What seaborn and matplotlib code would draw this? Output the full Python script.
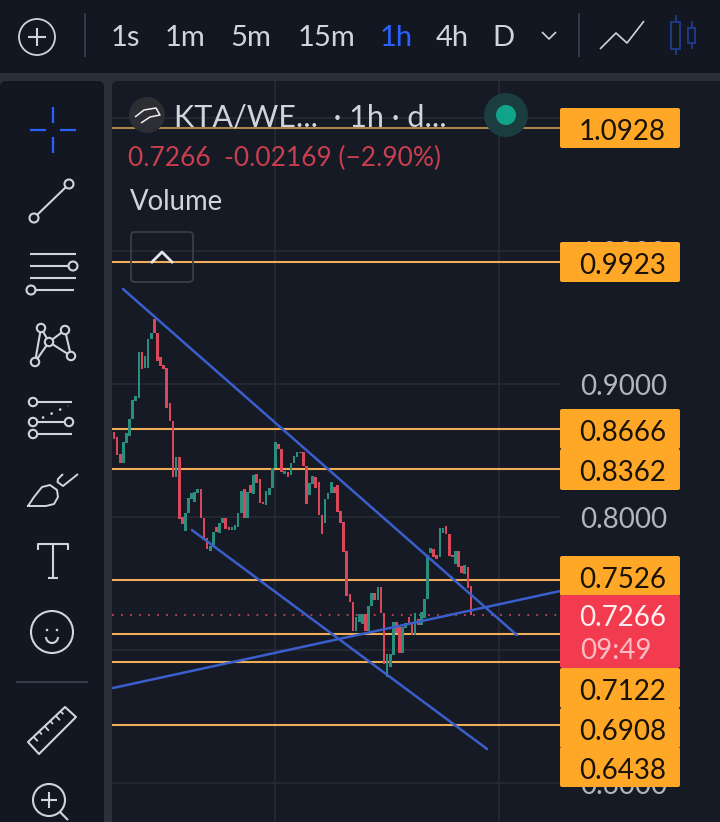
import matplotlib
matplotlib.use("Agg")
import matplotlib.pyplot as plt
from matplotlib.patches import FancyBboxPatch, Rectangle, Circle, Polygon, Arc
import numpy as np
import pandas as pd
import seaborn as sns

body_top = [.8639,.8606,.8476,.8563,.8631,.8737,.8882,.8912,.9243,.9243,
.9213,.9341,.9388,.9489,.9383,.9203,.9145,.9120,.8857,.8726,
.8451,.8451,.7999,.8030,.8142,.8180,.8192,.8210,.8210,.7992,
.7841,.7784,.7892,.7924,.7959,.7992,.7992,.7924,.7929,.7939,
.8035,.8197,.8210,.8192,.8243,.8318,.8325,.8285,.8117,.8200,
.8217,.8368,.8563,.8551,.8511,.8350,.8343,.8406,.8461,.8488,
.8493,.8488,.8388,.8260,.8313,.8300,.8268,.8017,.8135,.8185,
.8268,.8230,.8243,.8048,.7962,.7747,.7423,.7366,.7248,.7273,
.7273,.7273,.7333,.7428,.7428,.7473,.7473,.7278,.6972,.6972,
.7215,.7215,.7178,.7178,.7203,.7248,.7203,.7278,.7233,.7291,
.7383,.7717,.7767,.7759,.7717,.7917,.7917,.7935,.7875,.7717,
.7749,.7749,.7634,.7639,.7624,.7484]
body_bottom = [.8589,.8468,.8411,.8411,.8556,.8614,.8737,.8874,.8899,.9115,
.9120,.9120,.9338,.9383,.9178,.9140,.9113,.8819,.8726,.8305,
.8305,.7984,.7949,.7899,.8030,.8135,.8117,.8185,.7992,.7829,
.7761,.7749,.7779,.7892,.7884,.7954,.7909,.7904,.7904,.7904,
.7929,.8030,.7992,.7992,.8180,.8172,.8260,.8105,.8100,.8092,
.8167,.8217,.8368,.8511,.8343,.8325,.8305,.8318,.8406,.8456,
.8486,.8386,.8100,.8167,.8250,.8217,.8017,.7874,.7959,.8135,
.8185,.8185,.8042,.7960,.7742,.7408,.7366,.7145,.7145,.7215,
.7198,.7145,.7145,.7333,.7378,.7378,.7278,.6894,.6797,.6872,
.6962,.7128,.6982,.6982,.7165,.7198,.7115,.7115,.7190,.7190,
.7245,.7383,.7729,.7699,.7684,.7699,.7880,.7875,.7709,.7699,
.7649,.7629,.7579,.7571,.7466,.7265]
direction = list("RRRGGGGGGR" "GGGRRRRRRR" "GRRGGGGGRR" "RGGRGGRRGG" "GGRGRGRRRG"
                 "GGGRRGRGGG" "GRRGGRRRGG" "GRRRRRRRGG" "GRGGRGRRGG" "GRRGGRRGRG"
                 "GGGRRGGRRR" "GRRGRR")

level_prices = [1.0928, 0.9923, 0.8666, 0.8362, 0.7526, 0.7122, 0.6908, 0.6438]
level_labels = ["1.0928", "0.9923", "0.8666", "0.8362", "0.7526", "0.7122", "0.6908", "0.6438"]
last_price = 0.7266
price_ticks = [1.1, 1.0, 0.9, 0.8, 0.7, 0.6]
price_tick_labels = ["", "1.0000", "0.9000", "0.8000", "", "0.6000"]
time_grid = [51.9, 124.0]
trend_x = [[2.9, 129.8], [25.1, 120.2], [-0.3, 143.7]]
trend_y = [[0.9717, 0.7114], [0.7904, 0.6257], [0.6716, 0.7445]]
intervals = ["1s", "1m", "5m", "15m", "1h", "4h", "D"]

PANE = "#161a25"; BAR = "#121722"; BAND = "#2b2f3a"; GRID = "#262a35"
ORANGE = "#ffa726"; LINE_OR = "#f0ad58"; BLUE = "#3a5fcd"; RED_C = "#d8485a"; GREEN_C = "#2a8d7e"
ICON = "#d1d4dc"; ACTIVE = "#2962ff"

sns.set_theme(style="dark")
plt.rcParams["font.family"] = ["Lato", "DejaVu Sans"]

W, H = 720, 822
fig = plt.figure(figsize=(W/100, H/100), dpi=100, facecolor=BAR)

# --- backdrop
bg = fig.add_axes([0, 0, 1, 1], zorder=0)
bg.set_xlim(0, W); bg.set_ylim(H, 0); bg.axis("off")
bg.add_patch(Rectangle((0, 73), W, H-73, fc=BAND, lw=0))
bg.add_patch(FancyBboxPatch((0, 81), 104, 800, boxstyle="round,pad=0,rounding_size=6", fc=BAR, lw=0))
bg.add_patch(FancyBboxPatch((112, 81), 640, 800, boxstyle="round,pad=0,rounding_size=6", fc=PANE, lw=0))

# --- price pane
px2i = lambda px: (px - 114) / 3.104
px2p = lambda py: 0.7122 + (634 - py) / 1329.5
ax = fig.add_axes([112/W, 1-822/H, (560-112)/W, (822-81)/H], zorder=1)
ax.set_facecolor("none")

df = pd.DataFrame({"i": np.arange(len(body_top)), "top": body_top, "bottom": body_bottom, "dir": direction})
df["body"] = df["top"] - df["bottom"]
for d, c in (("R", RED_C), ("G", GREEN_C)):
    sub = df[df["dir"] == d]
    sns.barplot(data=sub, x="i", y="body", bottom=sub["bottom"].values, native_scale=True, orient="x",
                color=c, saturation=1, width=0.85, errorbar=None, linewidth=0, ax=ax, zorder=3)

x_end = [px2i(112), px2i(560)]
for k, p in enumerate(level_prices):
    sns.lineplot(x=x_end, y=[p, p], color="#a98748" if k == 0 else LINE_OR, lw=1.5, ax=ax, zorder=2, errorbar=None)
ax.plot(x_end, [last_price, last_price], color="#c64456", lw=1.3, ls=(0, (1, 4)), zorder=2)
for xs, ys in zip(trend_x, trend_y):
    sns.lineplot(x=xs, y=ys, color=BLUE, lw=1.8, ax=ax, zorder=4, errorbar=None, sort=False)

ax.set_xlim(*x_end)
ax.set_ylim(px2p(822), px2p(81))
ax.set_xticks(time_grid); ax.set_xticklabels([])
ax.set_yticks(price_ticks); ax.set_yticklabels(price_tick_labels)
ax.yaxis.tick_right()
ax.tick_params(axis="y", length=0, pad=14.4, labelsize=20, labelcolor="#b2b5be")
ax.tick_params(axis="x", length=0)
ax.set_xlabel(""); ax.set_ylabel("")
ax.grid(True, color=GRID, lw=1.2); ax.set_axisbelow(True)
for s in ax.spines.values():
    s.set_visible(False)

# --- chrome
ui = fig.add_axes([0, 0, 1, 1], zorder=5)
ui.set_xlim(0, W); ui.set_ylim(H, 0); ui.axis("off"); ui.patch.set_alpha(0)

def L(xs, ys, c=ICON, lw=1.5, **k):
    ui.plot(xs, ys, color=c, lw=lw, solid_capstyle="butt", **k)
def C(x, y, r, c=ICON, lw=1.5, fc="none", z=6):
    ui.add_patch(Circle((x, y), r, ec=c, fc=fc, lw=lw, zorder=z))
def T(x, y, s, size=20, c=ICON, ha="center", **k):
    ui.text(x, y, s, fontsize=size, color=c, ha=ha, va="center_baseline", **k)

# top bar
C(37, 37, 18, lw=1.3)
L([28, 46], [37, 37]); L([37, 37], [28, 46])
L([85, 85], [13, 57], c="#3a3f4b", lw=1.2); L([579, 579], [13, 57], c="#3a3f4b", lw=1.2)
for s, x, in zip(intervals, [125, 185, 251, 326, 396, 452, 503]):
    T(x, 36, s, size=21, c=ACTIVE if s == "1h" else ICON)
L([542, 549, 556], [32, 39, 32], lw=1.2)
L([600, 616, 627, 644], [49, 33, 43, 21], lw=1.2)
DB = "#1f3a86"
ui.add_patch(Rectangle((671, 22), 9, 27, ec=DB, fc="none", lw=1.4))
L([675.5, 675.5], [15, 22], c=DB, lw=1.4); L([675.5, 675.5], [49, 55], c=DB, lw=1.4)
ui.add_patch(Rectangle((688, 28), 7, 15, ec=DB, fc="none", lw=1.4))
L([691.5, 691.5], [21, 28], c=DB, lw=1.4); L([691.5, 691.5], [43, 49], c=DB, lw=1.4)

# left tools
L([53, 53], [107, 123], c=ACTIVE, lw=1.6); L([53, 53], [137, 153], c=ACTIVE, lw=1.6)
L([30, 46], [130, 130], c=ACTIVE, lw=1.6); L([60, 76], [130, 130], c=ACTIVE, lw=1.6)
L([37, 66], [215, 187]); C(34, 218, 4.5); C(69, 184, 4.5)
L([30, 76], [254, 254]); L([30, 68], [266, 266]); C(73, 266, 4.5)
L([30, 76], [278, 278]); L([36, 74], [290, 290]); C(31, 290, 4.5)
pts = {"a": (41, 328), "b": (65, 330), "c": (49, 342), "d": (35, 362), "e": (71, 356)}
for u, v in ["da", "ac", "dc", "cb", "be", "ce"]:
    L([pts[u][0], pts[v][0]], [pts[u][1], pts[v][1]])
for p in pts.values():
    C(p[0], p[1], 4.2, fc=BAR)
L([37, 72], [402, 402]); C(33, 402, 4.2)
L([37, 65], [422, 422]); C(33, 422, 4.2); C(69, 422, 4.2)
L([37, 72], [434, 434]); C(33, 434, 4.2)
L([42, 68], [418, 406], ls=(0, (1, 3)), lw=1.7)
brush = np.array([(28, 506), (34, 497), (42, 487), (50, 485), (57, 490), (58, 497), (54, 504), (46, 506), (28, 506)])
ui.plot(brush[:, 0], brush[:, 1], color=ICON, lw=1.4)
L([63, 58, 57.5, 63, 78], [474, 479, 482, 486, 474], lw=1.4)
L([38, 38, 68, 68], [550, 544, 544, 550]); L([53, 53], [544, 578]); L([48, 58], [578, 578])
C(52, 632, 21); C(47, 630, 1.3, fc=ICON, lw=0); C(57, 630, 1.3, fc=ICON, lw=0)
ui.add_patch(Arc((52, 637), 12, 12, theta1=0, theta2=180, ec=ICON, lw=1.5))
L([16, 88], [682, 682], c="#3a3f4b", lw=1.4)
ruler = [(28, 742), (65, 707), (76, 717), (39, 754)]
ui.add_patch(Polygon(ruler, closed=True, ec=ICON, fc="none", lw=1.5, joinstyle="round"))
for f, n in zip([.15, .3, .45, .6, .75, .88], [6, 4, 6, 4, 6, 4]):
    x0 = 28 + 37*f; y0 = 742 - 35*f
    L([x0, x0 + n*0.7], [y0, y0 + n*0.75], lw=1.3)
C(49, 800, 16)
L([41, 57], [800, 800]); L([49, 49], [792, 808]); L([60, 68], [812, 820])

# legend overlay
C(147, 115, 18, c="none", lw=0, fc="#2d2e33", z=3)
L([135, 144, 156, 160, 150, 141], [117, 110, 108, 115, 117, 123], c="#f0f0f0", lw=1.1, zorder=4)
T(174, 115, "KTA/WE...  · 1h · d...", size=22, ha="left")
C(506, 115, 22, c="none", lw=0, fc="#1c3d40", z=3)
C(506, 115, 10, c="none", lw=0, fc="#10a58a", z=4)
T(128, 156, "0.7266  -0.02169 (−2.90%)", size=19, c="#c93f4f", ha="left")
T(130, 199, "Volume", size=19.8, ha="left")
ui.add_patch(FancyBboxPatch((131, 232), 62, 50, boxstyle="round,pad=0,rounding_size=4", ec="#3a3e48", fc="none", lw=1.3))
L([151, 162, 173], [263, 252, 263], c="#e4e6ec", lw=2)

# price tags
def tag(cy0, cy1, fc):
    ui.add_patch(FancyBboxPatch((560, cy0), 120, cy1-cy0, boxstyle="round,pad=0,rounding_size=2", fc=fc, lw=0, zorder=7))
spans = [(108, 148), (242, 282), (409, 449), (449, 490), (556, 596), (668, 708), (708, 748), (747, 787)]
for (y0, y1), s in zip(spans, level_labels):
    tag(y0, y1, ORANGE)
    ui.text(666, (y0+y1)/2 + 1, s, fontsize=20, color="#1a1206", ha="right", va="center_baseline", zorder=8)
tag(595, 668, "#f23b4e")
ui.text(666, 615, "0.7266", fontsize=20, color="#fdeef0", ha="right", va="center_baseline", zorder=8)
ui.text(580, 648, "09:49", fontsize=20, color="#f9bcc4", ha="left", va="center_baseline", zorder=8)

fig.savefig("out.png", dpi=100, facecolor=fig.get_facecolor())
